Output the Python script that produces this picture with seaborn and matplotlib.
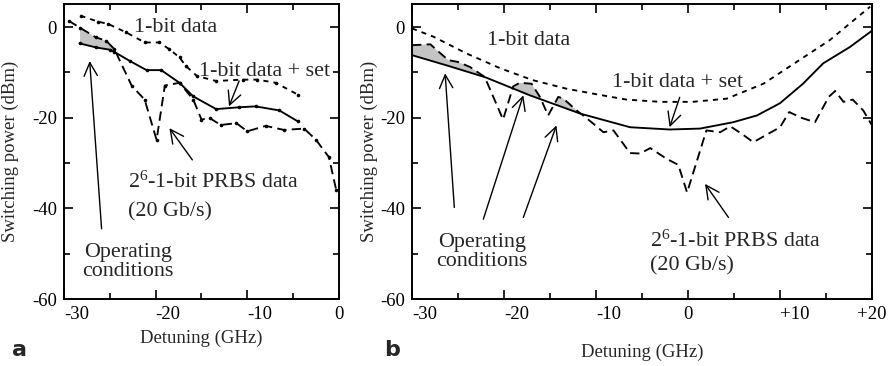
import numpy as np
import pandas as pd
import matplotlib
matplotlib.use("Agg")
import matplotlib.pyplot as plt
import seaborn as sns
from matplotlib.ticker import FixedLocator

# ---------------- data: panel a ----------------
a_bit_x = [-28.2, -26.3, -25.2, -23.2, -21.2, -19.6, -18.5, -17.4, -16.7, -15.5, -13.4, -10.5, -8.9, -6.9, -4.5]
a_bit_y = [2.5, 1.2, 0.7, -1.2, -3.4, -3.4, -4.9, -6.7, -8.6, -10.8, -11.9, -11.6, -11.6, -12.3, -14.9]

a_set_x = [-28.3, -26.5, -25.0, -24.5, -22.8, -21.0, -19.4, -17.4, -15.9, -13.4, -10.9, -9.1, -6.5, -4.5]
a_set_y = [-3.6, -4.5, -5.0, -5.5, -7.5, -9.5, -9.5, -12.3, -15.3, -18.1, -17.7, -17.5, -18.4, -20.8]

a_prbs_x = [-29.5, -28.3, -26.5, -25.4, -24.5, -22.6, -21.2, -19.9, -19.0, -17.4, -15.9, -15.0, -14.1,
            -12.9, -11.2, -10.0, -8.0, -6.0, -3.8, -2.5, -1.1, -0.3]
a_prbs_y = [1.4, -0.1, -2.3, -3.0, -4.9, -13.0, -16.0, -24.9, -12.9, -12.3, -16.0, -20.4, -20.1,
            -21.6, -21.2, -23.0, -21.8, -22.7, -22.4, -24.9, -28.7, -36.0]

# ---------------- data: panel b ----------------
b_bit_x = [-30, -27.7, -24.1, -20.4, -16.9, -13.2, -10.3, -6.7, -3.0, 0.5, 4.2, 8.2, 11.8, 15.4, 19.8]
b_bit_y = [-0.3, -2.1, -5.8, -9.1, -11.7, -13.6, -14.7, -16.0, -16.5, -16.5, -15.8, -12.5, -7.7, -2.9, 4.5]

b_set_x = [-30, -26.0, -22.0, -17.2, -11.7, -6.3, -2.0, 1.3, 4.9, 7.5, 10.0, 12.5, 14.7, 17.6, 20]
b_set_y = [-6.2, -8.6, -11.1, -15.05, -19.1, -22.1, -22.6, -22.4, -21.0, -19.5, -16.8, -12.5, -8.0, -4.4, -0.8]

b_prbs_x = [-30, -28.0, -27.3, -26.05, -25.0, -23.7, -22.1, -20.1, -19.0, -18.3, -17.0, -16.1, -15.2,
            -14.1, -13.55, -12.1, -11.4, -10.3, -9.2, -8.1, -6.3, -5.2, -4.1, -2.3, -1.05, -0.1,
            2.0, 3.5, 4.6, 5.8, 7.1, 10.0, 11.0, 12.3, 13.8, 15.3, 16.0, 16.9, 17.9, 19.05, 20]
b_prbs_y = [-4.0, -3.8, -5.1, -7.3, -7.7, -8.8, -11.0, -20.4, -13.1, -12.3, -12.5, -15.4, -19.5,
            -15.4, -15.8, -18.4, -19.5, -21.3, -23.2, -22.8, -27.8, -27.9, -26.7, -29.1, -30.4, -36.5,
            -22.8, -23.2, -21.9, -23.5, -25.4, -22.1, -18.75, -20.0, -21.0, -15.4, -14.1, -16.5, -16.0, -18.4, -21.7]

a_xticks = [-30, -20, -10, 0]
a_xticklabels = ["-30", "-20", "-10", "0"]
b_xticks = [-30, -20, -10, 0, 10, 20]
b_xticklabels = ["-30", "-20", "-10", "0", "+10", "+20"]
yticks = [0, -20, -40, -60]
yticklabels = ["0", "-20", "-40", "-60"]

# ---------------- style ----------------
sns.set_style("ticks")
plt.rcParams["font.family"] = ["Liberation Serif", "DejaVu Serif"]
plt.rcParams["mathtext.fontset"] = "custom"
plt.rcParams["mathtext.rm"] = "Liberation Serif"
plt.rcParams["mathtext.it"] = "Liberation Serif:italic"
plt.rcParams["axes.unicode_minus"] = False

TICK_FS = 13.5
ANN_FS = 15.8
LW = 1.35
SHORT = (0, (2.7, 2.7))
LONG = (0, (5.0, 2.8))
GRAY = "#c4c4c4"

fig = plt.figure(figsize=(8.93, 3.66), dpi=100)
bottom, top = 0.183, 0.988
axA = fig.add_axes([64 / 893, bottom, (339 - 64) / 893, top - bottom])
axB = fig.add_axes([412 / 893, bottom, (872 - 412) / 893, top - bottom])


def draw(ax, x, y, ls, marker=None):
    df = pd.DataFrame({"x": x, "y": y})
    kw = dict(data=df, x="x", y="y", ax=ax, color="black", sort=False,
              estimator=None, linewidth=LW, linestyle=ls)
    if marker:
        kw.update(marker="o", markersize=2.6, markeredgewidth=0)
    sns.lineplot(**kw)


def fill(ax, x1, y1, x2, y2, lo, hi):
    g = np.linspace(lo, hi, 600)
    u = np.interp(g, x1, y1)
    l = np.interp(g, x2, y2)
    ax.fill_between(g, l, u, where=u >= l, interpolate=True, color=GRAY, lw=0, zorder=1)


# panel a
fill(axA, a_prbs_x, a_prbs_y, a_set_x, a_set_y, -28.3, -24.5)
draw(axA, a_bit_x, a_bit_y, SHORT, marker=True)
draw(axA, a_set_x, a_set_y, "-", marker=True)
draw(axA, a_prbs_x, a_prbs_y, LONG, marker=True)

# panel b
fill(axB, b_prbs_x, b_prbs_y, b_set_x, b_set_y, -30, -11.5)
draw(axB, b_bit_x, b_bit_y, SHORT)
draw(axB, b_set_x, b_set_y, "-")
draw(axB, b_prbs_x, b_prbs_y, LONG)

for ax, xlim, xt, xtl in [(axA, (-30, 0), a_xticks, a_xticklabels),
                          (axB, (-30, 20), b_xticks, b_xticklabels)]:
    ax.set_xlim(*xlim)
    ax.set_ylim(-60, 5)
    ax.xaxis.set_major_locator(FixedLocator(xt))
    ax.set_xticklabels(xtl)
    ax.xaxis.set_minor_locator(FixedLocator(np.arange(xlim[0] + 5, xlim[1], 10)))
    ax.yaxis.set_major_locator(FixedLocator(yticks))
    ax.set_yticklabels(yticklabels)
    ax.yaxis.set_minor_locator(FixedLocator([-50, -30, -10]))
    ax.tick_params(which="both", direction="in", top=True, right=True,
                   labelsize=TICK_FS, width=1.2, colors="black", pad=5)
    ax.tick_params(which="major", length=6.5)
    ax.tick_params(which="minor", length=4.5)
    for s in ax.spines.values():
        s.set_linewidth(1.4)
        s.set_color("black")
    ax.set_xlabel("Detuning (GHz)", fontsize=TICK_FS)
    ax.set_ylabel("Switching power (dBm)", fontsize=TICK_FS)
    # labels with a leading sign start at the tick, as in the reference
    for lab in ax.get_xticklabels():
        t = lab.get_text()
        if t.startswith("-") or t == "+10":
            lab.set_horizontalalignment("left")

axA.yaxis.set_label_coords(-0.165, 0.5)
axB.yaxis.set_label_coords(-0.075, 0.5)
axA.xaxis.set_label_coords(0.5, -0.105)
axB.xaxis.set_label_coords(0.5, -0.15)

arrow = dict(arrowstyle="->", color="black", lw=1.0, mutation_scale=24, shrinkA=0, shrinkB=0)

# annotations panel a
axA.text(-22.4, 0.0, "1-bit data", fontsize=ANN_FS, ha="left", va="center")
axA.text(-8.15, -9.7, "1-bit data + set", fontsize=ANN_FS, ha="center", va="center")
axA.annotate("", xy=(-12.0, -17.5), xytext=(-10.9, -11.9), arrowprops=arrow)
axA.text(-23.0, -34.2, r"2$^{6}$-1-bit PRBS data", fontsize=ANN_FS, ha="left", va="center")
axA.text(-23.0, -40.8, "(20 Gb/s)", fontsize=ANN_FS, ha="left", va="center")
axA.annotate("", xy=(-18.5, -22.3), xytext=(-16.0, -29.3), arrowprops=arrow)
axA.text(-23.0, -51.9, "Operating\nconditions", fontsize=ANN_FS, ha="center", va="center",
         multialignment="center", linespacing=1.0)
axA.annotate("", xy=(-27.2, -7.5), xytext=(-25.9, -44.5), arrowprops=arrow)

# annotations panel b
axB.text(-21.8, -2.9, "1-bit data", fontsize=ANN_FS, ha="left", va="center")
axB.text(-1.1, -12.2, "1-bit data + set", fontsize=ANN_FS, ha="center", va="center")
axB.annotate("", xy=(-2.0, -22.1), xytext=(-0.9, -15.5), arrowprops=arrow)
axB.text(-22.4, -49.6, "Operating\nconditions", fontsize=ANN_FS, ha="center", va="center",
         multialignment="center", linespacing=1.0)
axB.annotate("", xy=(-26.4, -10.2), xytext=(-25.4, -39.8), arrowprops=arrow)
axB.annotate("", xy=(-17.9, -15.05), xytext=(-22.25, -42.4), arrowprops=arrow)
axB.annotate("", xy=(-14.3, -21.7), xytext=(-17.9, -42.0), arrowprops=arrow)
axB.text(-4.1, -47.2, r"2$^{6}$-1-bit PRBS data", fontsize=ANN_FS, ha="left", va="center")
axB.text(-4.1, -52.7, "(20 Gb/s)", fontsize=ANN_FS, ha="left", va="center")
axB.annotate("", xy=(1.85, -34.6), xytext=(4.4, -42.0), arrowprops=arrow)

fig.text(12 / 893, 1 - 350 / 366, "a", fontsize=16, fontweight="bold",
         family="DejaVu Sans", ha="left", va="center")
fig.text(384 / 893, 1 - 350 / 366, "b", fontsize=16, fontweight="bold",
         family="DejaVu Sans", ha="left", va="center")

fig.savefig("out.png", dpi=100)
